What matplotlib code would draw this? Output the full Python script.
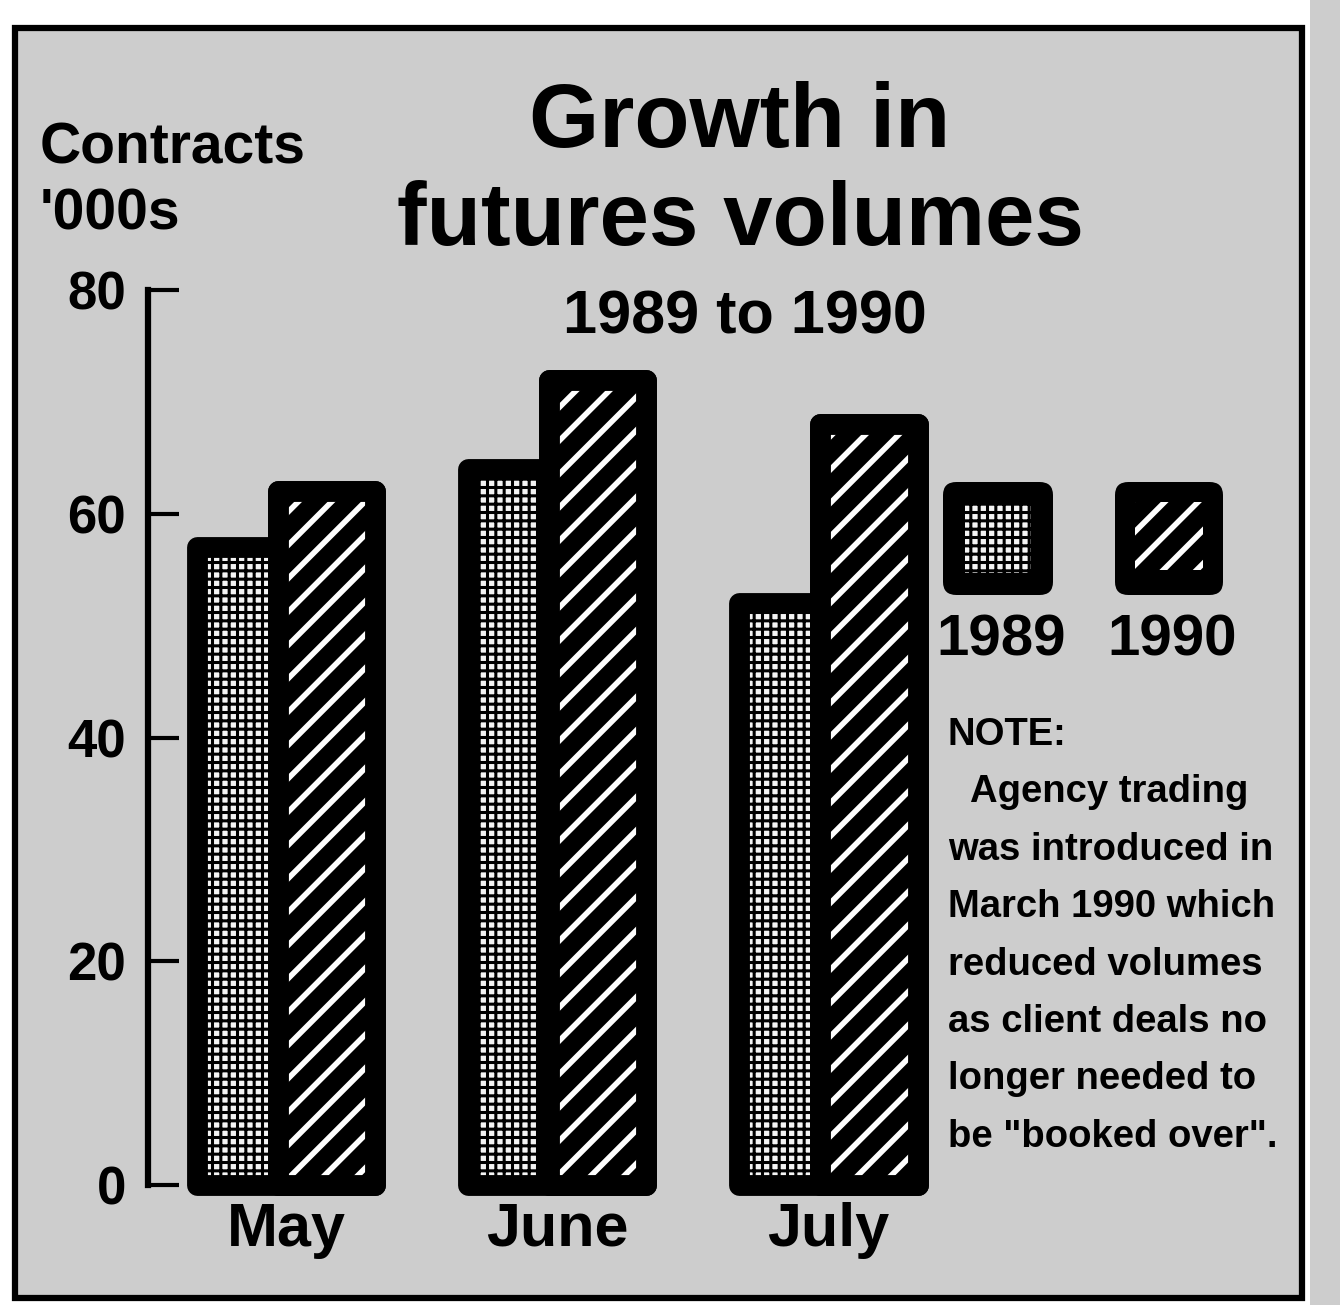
import matplotlib
matplotlib.use("Agg")
import matplotlib.pyplot as plt
from matplotlib.patches import Rectangle, FancyBboxPatch
import numpy as np

# data (contracts, '000s)
months = ["May", "June", "July"]
vol_1989 = [57, 64, 52]
vol_1990 = [62, 72, 68]
years = ["1989", "1990"]
y_ticks = [0, 20, 40, 60, 80]
note_lines = ["NOTE:", "Agency trading", "was introduced in", "March 1990 which",
              "reduced volumes", "as client deals no", "longer needed to",
              'be "booked over".']

W, H = 1340, 1305
plt.rcParams["font.family"] = ["Liberation Sans", "DejaVu Sans"]
plt.rcParams["hatch.linewidth"] = 2.2

fig = plt.figure(figsize=(W / 100, H / 100), dpi=100)
fig.patch.set_facecolor("white")

def fx(px):
    return px / W

def fy(py):
    return 1 - py / H

def box(x0, y0, x1, y1, **kw):
    # rectangle given in pixel corners (top-left origin)
    return Rectangle((fx(x0), fy(y1)), fx(x1) - fx(x0), fy(y0) - fy(y1),
                     transform=fig.transFigure, **kw)

def hatch_lw(patches, lw):
    for p in patches:
        if hasattr(p, "set_hatch_linewidth"):
            p.set_hatch_linewidth(lw)

# newsprint grey + outer frame
fig.patches.append(box(1310, 0, 1340, 1305, facecolor="#cdcdcd", lw=0, zorder=-2))
fig.patches.append(box(15, 28, 1302, 1298, facecolor="#cdcdcd",
                       edgecolor="black", lw=4.5, zorder=-1))

ax = fig.add_axes([fx(148), fy(1185), fx(930) - fx(148), fy(290) - fy(1185)])
ax.patch.set_visible(False)
x = np.arange(len(months))
ax.set_xlim(-0.509, 2.376)
ax.set_ylim(0, 80)

w = 0.36
# 1989: white with black crosshatch
b89 = ax.bar(x - 0.15, vol_1989, w, facecolor="#f4f4f4", edgecolor="black", hatch="++",
             lw=15, joinstyle="round", clip_on=False, zorder=2)
hatch_lw(b89, 2.2)
# 1990: black with white diagonal lines, border redrawn on top
ax.bar(x + 0.15, vol_1990, w, facecolor="black", edgecolor="black",
       lw=15, joinstyle="round", clip_on=False, zorder=3)
b90 = ax.bar(x + 0.15, vol_1990, w, fill=False, edgecolor="white", hatch="/",
             lw=0, clip_on=False, zorder=4)
hatch_lw(b90, 4)
ax.bar(x + 0.15, vol_1990, w, fill=False, edgecolor="black",
       lw=15, joinstyle="round", clip_on=False, zorder=5)

for s in ["top", "right", "bottom"]:
    ax.spines[s].set_visible(False)
ax.spines["left"].set_linewidth(4.5)
ax.set_yticks(y_ticks, labels=[str(t) for t in y_ticks], fontsize=38, fontweight="bold")
ax.tick_params(axis="y", direction="in", length=22, width=3, pad=16)
ax.set_xticks(x, labels=months, fontsize=44, fontweight="bold")
ax.tick_params(axis="x", length=0, pad=12)

# titles
fig.text(fx(740), fy(147), "Growth in", ha="center", va="baseline",
         fontsize=65, fontweight="bold")
fig.text(fx(740), fy(245), "futures volumes", ha="center", va="baseline",
         fontsize=64, fontweight="bold")
fig.text(fx(745), fy(333), "1989 to 1990", ha="center", va="baseline",
         fontsize=44, fontweight="bold")
fig.text(fx(40), fy(163), "Contracts", ha="left", va="baseline",
         fontsize=41, fontweight="bold")
fig.text(fx(40), fy(230), "'000s", ha="left", va="baseline",
         fontsize=41, fontweight="bold")

# legend keys
key_x = [(943, 1053), (1115, 1223)]
for yr, (x0, x1) in zip(years, key_x):
    fig.patches.append(FancyBboxPatch((fx(x0), fy(595)), fx(x1) - fx(x0), fy(482) - fy(595),
                                      boxstyle="round,pad=0,rounding_size=0.01",
                                      transform=fig.transFigure, facecolor="black",
                                      edgecolor="black", lw=0, zorder=1))
    if yr == "1989":
        k = box(x0 + 22, 504, x1 - 22, 573, facecolor="#f4f4f4",
                edgecolor="black", hatch="++", lw=0, zorder=2)
        hatch_lw([k], 2.2)
    else:
        k = box(x0 + 20, 502, x1 - 20, 570, fill=False,
                edgecolor="white", hatch="/", lw=0, zorder=2)
        hatch_lw([k], 4)
    fig.patches.append(k)
    fig.text(fx((x0 + x1) / 2 + 3), fy(655), yr, ha="center", va="baseline",
             fontsize=42, fontweight="bold")

# note
for i, line in enumerate(note_lines):
    xpos = 970 if i == 1 else 948
    fig.text(fx(xpos), fy(745 + i * 57.4), line, ha="left", va="baseline",
             fontsize=27.5, fontweight="bold")

fig.savefig("out.png", dpi=100)
